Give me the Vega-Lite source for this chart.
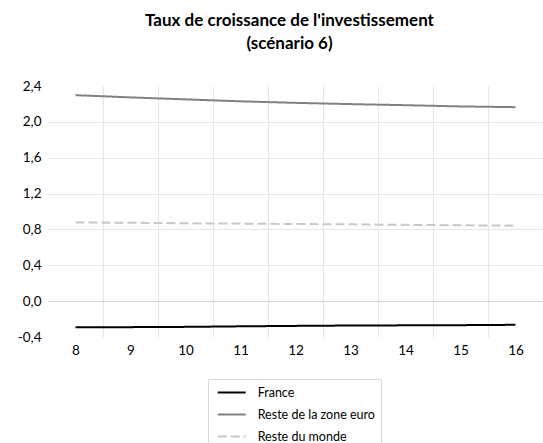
{
  "$schema": "https://vega.github.io/schema/vega-lite/v6.json",
  "autosize": {"type": "none"},
  "width": 495,
  "height": 251,
  "padding": {"left": 48, "top": 86, "right": 0, "bottom": 106},
  "background": "white",
  "title": {
    "text": ["Taux de croissance de l'investissement", "(scénario 6)"],
    "font": "Lato",
    "fontSize": 17,
    "fontWeight": "bold",
    "color": "#000000",
    "lineHeight": 23,
    "anchor": "middle",
    "dx": -6,
    "offset": 26
  },
  "data": {
    "values": [
      {"periode": 8, "serie": "France", "taux": -0.290},
      {"periode": 9, "serie": "France", "taux": -0.290},
      {"periode": 10, "serie": "France", "taux": -0.287},
      {"periode": 11, "serie": "France", "taux": -0.281},
      {"periode": 12, "serie": "France", "taux": -0.276},
      {"periode": 13, "serie": "France", "taux": -0.272},
      {"periode": 14, "serie": "France", "taux": -0.270},
      {"periode": 15, "serie": "France", "taux": -0.268},
      {"periode": 16, "serie": "France", "taux": -0.264},
      {"periode": 8, "serie": "Reste de la zone euro", "taux": 2.298},
      {"periode": 9, "serie": "Reste de la zone euro", "taux": 2.273},
      {"periode": 10, "serie": "Reste de la zone euro", "taux": 2.251},
      {"periode": 11, "serie": "Reste de la zone euro", "taux": 2.229},
      {"periode": 12, "serie": "Reste de la zone euro", "taux": 2.212},
      {"periode": 13, "serie": "Reste de la zone euro", "taux": 2.198},
      {"periode": 14, "serie": "Reste de la zone euro", "taux": 2.186},
      {"periode": 15, "serie": "Reste de la zone euro", "taux": 2.172},
      {"periode": 16, "serie": "Reste de la zone euro", "taux": 2.164},
      {"periode": 8, "serie": "Reste du monde", "taux": 0.877},
      {"periode": 9, "serie": "Reste du monde", "taux": 0.875},
      {"periode": 10, "serie": "Reste du monde", "taux": 0.868},
      {"periode": 11, "serie": "Reste du monde", "taux": 0.865},
      {"periode": 12, "serie": "Reste du monde", "taux": 0.860},
      {"periode": 13, "serie": "Reste du monde", "taux": 0.857},
      {"periode": 14, "serie": "Reste du monde", "taux": 0.851},
      {"periode": 15, "serie": "Reste du monde", "taux": 0.846},
      {"periode": 16, "serie": "Reste du monde", "taux": 0.842}
    ]
  },
  "mark": {"type": "line", "strokeWidth": 2},
  "encoding": {
    "x": {
      "field": "periode",
      "type": "quantitative",
      "scale": {"domain": [7.5, 16.5], "nice": false, "zero": false},
      "axis": {
        "title": null,
        "values": [8, 8.5, 9, 9.5, 10, 10.5, 11, 11.5, 12, 12.5, 13, 13.5, 14, 14.5, 15, 15.5, 16],
        "labelExpr": "datum.value % 1 == 0 ? format(datum.value, 'd') : ''",
        "labelOverlap": false,
        "labelFlush": false,
        "labelPadding": 6,
        "ticks": false,
        "domain": false,
        "grid": true,
        "gridColor": "#e6e6e6",
        "gridOpacity": {"condition": {"test": "datum.value % 1 == 0", "value": 0}, "value": 1}
      }
    },
    "y": {
      "field": "taux",
      "type": "quantitative",
      "scale": {"domain": [-0.4, 2.4], "nice": false, "zero": false},
      "axis": {
        "title": null,
        "values": [-0.4, 0, 0.4, 0.8, 1.2, 1.6, 2.0, 2.4],
        "format": ".1f",
        "labelPadding": 7,
        "ticks": false,
        "domain": false,
        "grid": true,
        "gridColor": {"condition": {"test": "abs(datum.value) < 0.01", "value": "#d4d4d4"}, "value": "#e6e6e6"},
        "gridOpacity": {"condition": {"test": "datum.value < -0.3 || datum.value > 2.3", "value": 0}, "value": 1}
      }
    },
    "color": {
      "field": "serie",
      "type": "nominal",
      "scale": {
        "domain": ["France", "Reste de la zone euro", "Reste du monde"],
        "range": ["#000000", "#808080", "#c8c8c8"]
      },
      "legend": {
        "title": null,
        "orient": "none",
        "legendX": 160,
        "legendY": 293,
        "direction": "vertical",
        "symbolType": "M-0.58,0H3.72",
        "symbolSize": 169,
        "symbolStrokeWidth": 2,
        "labelFont": "Lato",
        "labelFontSize": 12.5,
        "labelColor": "#000000",
        "labelOffset": 28.7,
        "rowPadding": 8,
        "padding": 6,
        "strokeColor": "#d9d9d9",
        "fillColor": "#ffffff"
      }
    },
    "strokeDash": {
      "field": "serie",
      "type": "nominal",
      "scale": {
        "domain": ["France", "Reste de la zone euro", "Reste du monde"],
        "range": [[1, 0], [1, 0], [9, 4]]
      },
      "legend": null
    }
  },
  "config": {
    "view": {"stroke": null},
    "locale": {
      "number": {
        "decimal": ",",
        "thousands": " ",
        "grouping": [3],
        "currency": ["", " €"],
        "minus": "-"
      }
    },
    "axis": {
      "labelFont": "Lato",
      "labelFontSize": 13.5,
      "labelColor": "#000000"
    }
  }
}
